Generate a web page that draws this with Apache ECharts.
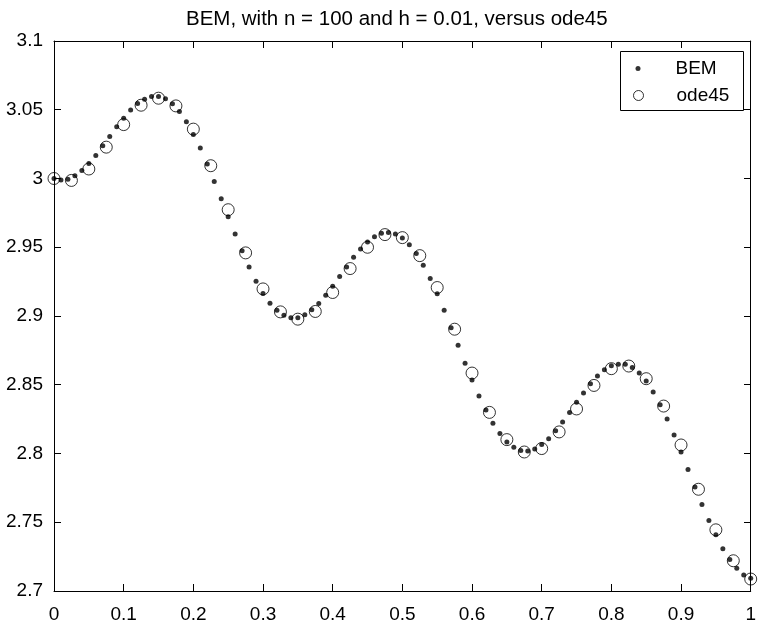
<!DOCTYPE html>
<html><head><meta charset="utf-8">
<script src="https://cdn.jsdelivr.net/npm/echarts@6/dist/echarts.min.js"></script>
<style>html,body{margin:0;padding:0;background:#fff}#c{width:759px;height:624px}</style>
</head><body><div id="c"></div>
<script>
const titleText = 'BEM, with n = 100 and h = 0.01, versus ode45';
const seriesNames = ['BEM', 'ode45'];
const xTickLabels = ['0','0.1','0.2','0.3','0.4','0.5','0.6','0.7','0.8','0.9','1'];
const yTickLabels = ['2.7','2.75','2.8','2.85','2.9','2.95','3','3.05','3.1'];

const bemT = [0.00,0.01,0.02,0.03,0.04,0.05,0.06,0.07,0.08,0.09,
  0.10,0.11,0.12,0.13,0.14,0.15,0.16,0.17,0.18,0.19,
  0.20,0.21,0.22,0.23,0.24,0.25,0.26,0.27,0.28,0.29,
  0.30,0.31,0.32,0.33,0.34,0.35,0.36,0.37,0.38,0.39,
  0.40,0.41,0.42,0.43,0.44,0.45,0.46,0.47,0.48,0.49,
  0.50,0.51,0.52,0.53,0.54,0.55,0.56,0.57,0.58,0.59,
  0.60,0.61,0.62,0.63,0.64,0.65,0.66,0.67,0.68,0.69,
  0.70,0.71,0.72,0.73,0.74,0.75,0.76,0.77,0.78,0.79,
  0.80,0.81,0.82,0.83,0.84,0.85,0.86,0.87,0.88,0.89,
  0.90,0.91,0.92,0.93,0.94,0.95,0.96,0.97,0.98,0.99,1.00];
const bemY = [3.0000,2.9990,2.9995,3.0020,3.0058,3.0110,3.0167,3.0238,3.0305,3.0376,
  3.0439,3.0499,3.0545,3.0577,3.0596,3.0596,3.0580,3.0543,3.0487,3.0412,
  3.0320,3.0221,3.0105,2.9979,2.9853,2.9722,2.9597,2.9475,2.9357,2.9253,
  2.9163,2.9093,2.9042,2.9006,2.8987,2.8987,2.9009,2.9045,2.9091,2.9151,
  2.9216,2.9287,2.9357,2.9427,2.9488,2.9539,2.9577,2.9601,2.9608,2.9597,
  2.9568,2.9519,2.9454,2.9369,2.9272,2.9161,2.9042,2.8914,2.8788,2.8657,
  2.8534,2.8418,2.8316,2.8220,2.8145,2.8084,2.8045,2.8021,2.8019,2.8033,
  2.8065,2.8108,2.8166,2.8229,2.8299,2.8372,2.8440,2.8508,2.8563,2.8609,
  2.8638,2.8650,2.8650,2.8626,2.8585,2.8527,2.8447,2.8355,2.8251,2.8135,
  2.8011,2.7884,2.7757,2.7629,2.7513,2.7409,2.7307,2.7230,2.7165,2.7116,2.7092];

const odeT = [0,0.025,0.05,0.075,0.1,0.125,0.15,0.175,0.2,0.225,
  0.25,0.275,0.3,0.325,0.35,0.375,0.4,0.425,0.45,0.475,
  0.5,0.525,0.55,0.575,0.6,0.625,0.65,0.675,0.7,0.725,
  0.75,0.775,0.8,0.825,0.85,0.875,0.9,0.925,0.95,0.975,1];
const odeY = [3.0000,2.9986,3.0069,3.0228,3.0392,3.0533,3.0584,3.0528,3.0359,3.0093,
  2.9773,2.9459,2.9197,2.9030,2.8977,2.9033,2.9171,2.9345,2.9500,2.9592,
  2.9570,2.9439,2.9207,2.8904,2.8585,2.8299,2.8101,2.8011,2.8036,2.8157,
  2.8324,2.8495,2.8617,2.8636,2.8544,2.8345,2.8062,2.7740,2.7445,2.7220,2.7087];

(function () {
  const FONT = '"Liberation Sans", Arial, Helvetica, sans-serif';
  const xVals = xTickLabels.map(Number);
  const yVals = yTickLabels.map(Number);
  const xMin = xVals[0], xMax = xVals[xVals.length - 1];
  const yMin = yVals[0], yMax = yVals[yVals.length - 1];

  const chart = echarts.init(document.getElementById('c'), null, {renderer: 'canvas'});

  function fmtX(v) { const i = xVals.findIndex(t => Math.abs(t - v) < 1e-9); return i >= 0 ? xTickLabels[i] : ''; }
  function fmtY(v) { const i = yVals.findIndex(t => Math.abs(t - v) < 1e-9); return i >= 0 ? yTickLabels[i] : ''; }

  function axisParts(showLabel, margin, fmt) {
    return {
      axisLine: {show: true, onZero: false, lineStyle: {color: '#000', width: 1}},
      axisTick: {show: false},
      axisLabel: {show: showLabel, color: '#000', fontFamily: FONT, fontSize: 19, margin: margin, formatter: fmt},
      splitLine: {show: false}
    };
  }
  function xAx(pos, showLabel) {
    return Object.assign({type: 'value', min: xMin, max: xMax, interval: 0.1, position: pos},
      axisParts(showLabel, 14, fmtX));
  }
  function yAx(pos, showLabel) {
    return Object.assign({type: 'value', min: yMin, max: yMax, interval: 0.05, position: pos},
      axisParts(showLabel, 11, fmtY));
  }

  const legendBox = {type: 'rect', z: 3, silent: true, shape: {x: 620.5, y: 51.5, width: 123, height: 59},
    style: {fill: '#fff', stroke: '#000', lineWidth: 1}};

  chart.setOption({
    animation: false,
    backgroundColor: '#fff',
    title: {text: titleText, left: 181, top: 4,
      textStyle: {color: '#000', fontFamily: FONT, fontSize: 20.5, fontWeight: 'normal'}},
    grid: {left: 54, right: 6, top: 41, bottom: 32, containLabel: false},
    xAxis: [xAx('bottom', true), xAx('top', false)],
    yAxis: [yAx('left', true), yAx('right', false)],
    legend: [
      {data: [seriesNames[0]], left: 635.5, top: 59, padding: 0, itemWidth: 5, itemHeight: 5,
        icon: 'circle', selectedMode: false, z: 6,
        textStyle: {color: '#000', fontFamily: FONT, fontSize: 19, rich: {g: {width: 30}}},
        formatter: (name) => '{g| }' + name},
      {data: [seriesNames[1]], left: 633, top: 86, padding: 0, itemWidth: 10, itemHeight: 10,
        icon: 'circle', selectedMode: false, z: 6,
        textStyle: {color: '#000', fontFamily: FONT, fontSize: 19, rich: {g: {width: 28}}},
        formatter: (name) => '{g| }' + name,
        itemStyle: {color: '#fff', borderColor: '#000', borderWidth: 1}}
    ],
    graphic: [legendBox],
    series: [
      {name: seriesNames[0], type: 'scatter', xAxisIndex: 0, yAxisIndex: 0, clip: false,
        symbol: 'circle', symbolSize: 5, itemStyle: {color: '#000'},
        emphasis: {disabled: true},
        data: bemT.map((t, i) => [t, bemY[i]])},
      {name: seriesNames[1], type: 'scatter', xAxisIndex: 0, yAxisIndex: 0, clip: false,
        symbol: 'circle', symbolSize: 12,
        itemStyle: {color: 'rgba(0,0,0,0)', borderColor: '#000', borderWidth: 1},
        emphasis: {disabled: true},
        data: odeT.map((t, i) => [t, odeY[i]])}
    ]
  });

  // MATLAB-style inward ticks on all four sides, placed through the axes' own scales.
  const TL = 7;
  const finder = {gridIndex: 0};
  const pBL = chart.convertToPixel(finder, [xMin, yMin]);
  const pTR = chart.convertToPixel(finder, [xMax, yMax]);
  const pxBottom = Math.round(pBL[1]), pxTop = Math.round(pTR[1]);
  const pxLeft = Math.round(pBL[0]), pxRight = Math.round(pTR[0]);
  const tickStyle = {stroke: '#000', lineWidth: 1};
  const tickEls = [];
  xVals.forEach(v => {
    const x = Math.floor(chart.convertToPixel(finder, [v, yMin])[0]) + 0.5;
    tickEls.push({type: 'line', silent: true, z: 5, shape: {x1: x, y1: pxBottom, x2: x, y2: pxBottom - TL}, style: tickStyle});
    tickEls.push({type: 'line', silent: true, z: 5, shape: {x1: x, y1: pxTop, x2: x, y2: pxTop + TL}, style: tickStyle});
  });
  yVals.forEach(v => {
    const y = Math.floor(chart.convertToPixel(finder, [xMin, v])[1]) + 0.5;
    tickEls.push({type: 'line', silent: true, z: 5, shape: {x1: pxLeft, y1: y, x2: pxLeft + TL, y2: y}, style: tickStyle});
    tickEls.push({type: 'line', silent: true, z: 5, shape: {x1: pxRight, y1: y, x2: pxRight - TL, y2: y}, style: tickStyle});
  });
  chart.setOption({graphic: [legendBox].concat(tickEls)});
})();
</script></body></html>
